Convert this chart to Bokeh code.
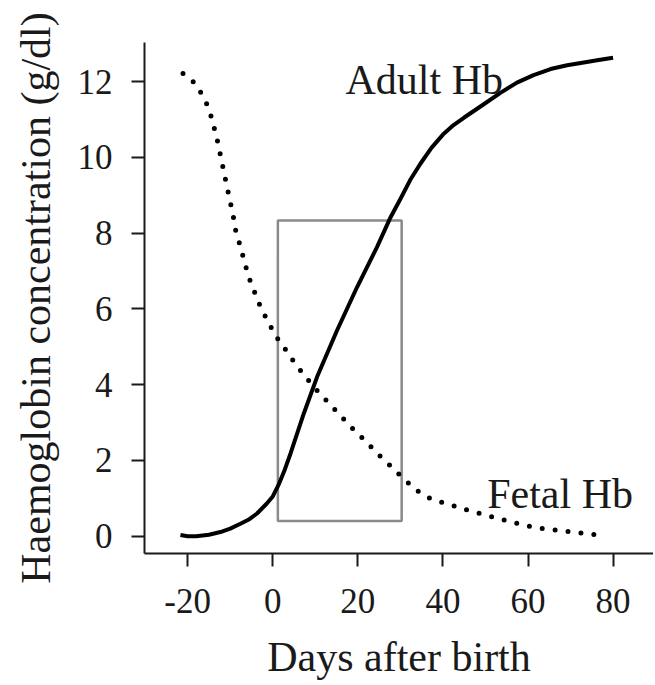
from bokeh.plotting import figure
from bokeh.models import Range1d, FixedTicker, Title
from bokeh.core.properties import value
from bokeh.embed import file_html
from bokeh.resources import INLINE

# Adult haemoglobin (solid curve)
adult_days = [-21.7, -20, -18, -15, -12.3, -10, -7.6, -5.5, -3.7, -1.5, 0, 1.3, 2.8, 4.2,
              7.3, 10.4, 15.1, 19.8, 24.5, 27.7, 30, 32.3, 34.7, 37.3, 40, 42.5, 45, 49.6,
              53.5, 57.4, 61.3, 65.3, 69.2, 73.1, 76.6, 80]
adult_hb = [0.03, 0.0, 0.0, 0.04, 0.11, 0.2, 0.33, 0.45, 0.6, 0.85, 1.05, 1.34, 1.75, 2.19,
            3.24, 4.2, 5.43, 6.57, 7.63, 8.42, 8.9, 9.4, 9.83, 10.25, 10.6, 10.85, 11.05, 11.4,
            11.7, 11.97, 12.17, 12.33, 12.43, 12.5, 12.57, 12.63]

# Fetal haemoglobin (dotted curve)
fetal_days = [-21.1, -18.2, -16.2, -14.9, -13.2, -11.9, -10.6, -9.3, -8.8, -7.5, -6.3, -5.2, -2.7,
              0.6, 2.8, 5.0, 7.3, 9.9, 12.8, 15.7, 18.7, 21.8, 24.8, 27.9, 31.0, 34.1, 37.1,
              40.2, 43.5, 46.6, 49.8, 52.9, 56.0, 59.2, 62.3, 65.4, 68.6, 71.7, 74.8, 77.8]
fetal_hb = [12.21, 11.95, 11.58, 11.25, 10.54, 9.84, 9.14, 8.46, 8.11, 7.6, 7.1, 6.7, 6.0,
            5.3, 4.96, 4.6, 4.26, 3.91, 3.56, 3.21, 2.85, 2.51, 2.16, 1.83, 1.49, 1.19, 0.99,
            0.88, 0.77, 0.66, 0.57, 0.47, 0.38, 0.29, 0.22, 0.18, 0.13, 0.1, 0.05, 0.03]

# Highlight box (days, g/dl)
box_left = [1.2]
box_right = [30.3]
box_bottom = [0.4]
box_top = [8.33]

# Curve labels
label_text = ["Adult Hb", "Fetal Hb"]
label_x = [17.1, 50.4]
label_y = [12.05, 1.12]

x_ticks = [-20, 0, 20, 40, 60, 80]
y_ticks = [0, 2, 4, 6, 8, 10, 12]

x_title = "Days after birth"
y_title = "Haemoglobin concentration (g/dl)"

FONT = "Liberation Serif"
INK = "#1a1a1a"

p = figure(width=653, height=683, output_backend="svg", toolbar_location=None,
           x_range=Range1d(-30.15, 89.5), y_range=Range1d(-0.456, 13.03),
           min_border_left=144, min_border_right=0, min_border_top=42, min_border_bottom=130)
p.outline_line_color = None
p.xgrid.visible = False
p.ygrid.visible = False
p.background_fill_color = "white"
p.border_fill_color = "white"

for ax in (p.xaxis[0], p.yaxis[0]):
    ax.axis_line_width = 2
    ax.axis_line_color = INK
    ax.major_tick_line_width = 2
    ax.major_tick_line_color = INK
    ax.major_tick_in = 0
    ax.major_tick_out = 13
    ax.minor_tick_line_color = None
    ax.major_label_text_font = FONT
    ax.major_label_text_font_size = "35px"
    ax.major_label_text_color = INK
    ax.axis_label_text_font = FONT
    ax.axis_label_text_font_size = "42px"
    ax.axis_label_text_font_style = "normal"
    ax.axis_label_text_color = INK

p.xaxis[0].ticker = FixedTicker(ticks=x_ticks)
p.yaxis[0].ticker = FixedTicker(ticks=y_ticks)
p.xaxis[0].major_label_overrides = {t: str(t) for t in x_ticks}
p.yaxis[0].major_label_overrides = {t: str(t) for t in y_ticks}
p.yaxis[0].axis_label = y_title
p.xaxis[0].major_label_standoff = 22
p.yaxis[0].major_label_standoff = 19
p.yaxis[0].axis_label_standoff = 16

# x-axis title as a title panel below the axis (leading blank line with a
# small line height acts as a spacer above the text)
p.add_layout(Title(text="\n" + x_title, align="center", text_font=FONT, text_font_size="42px",
                   text_font_style="normal", text_color=INK, standoff=2,
                   text_line_height=0.35), "below")

p.quad(left=box_left, right=box_right, bottom=box_bottom, top=box_top,
       fill_color=None, line_color="#8a8a8a", line_width=2.5)

p.line(fetal_days, fetal_hb, line_color="black", line_width=5,
       line_dash="0 13", line_cap="round")
p.line(adult_days, adult_hb, line_color="black", line_width=4, line_join="round")

p.text(x=label_x, y=label_y, text=label_text, text_font=value(FONT),
       text_font_size="42px", text_color=INK, text_align="left", text_baseline="alphabetic")

open("out.html", "w").write(file_html(p, INLINE))
